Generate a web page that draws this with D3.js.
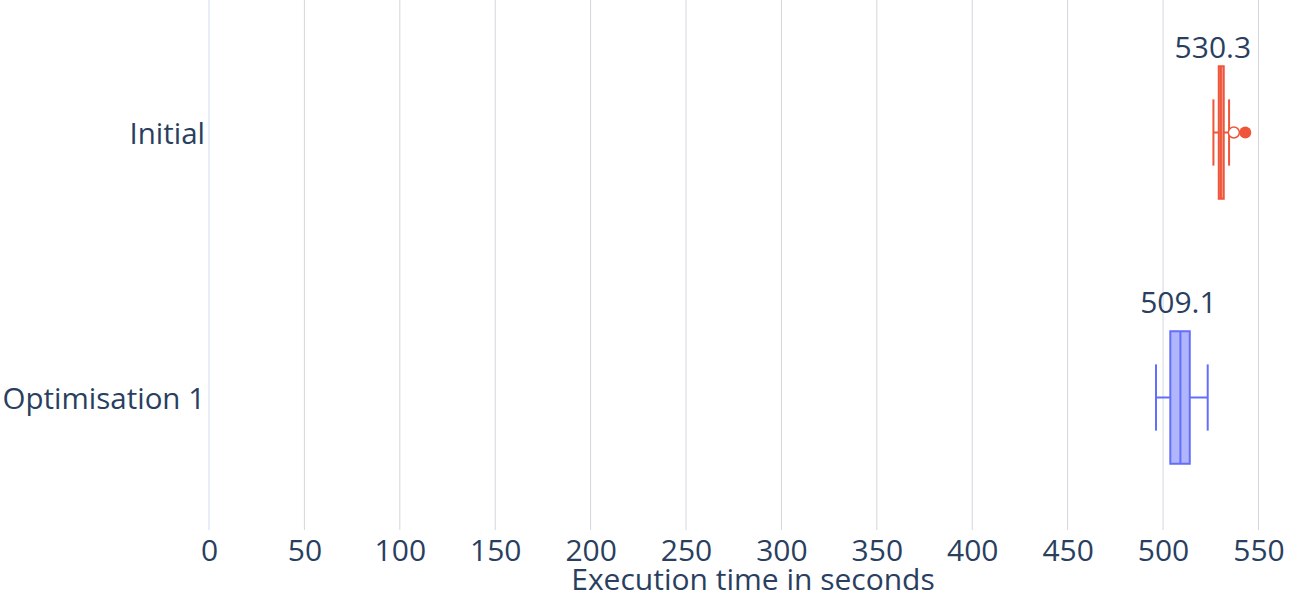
<!DOCTYPE html>
<html>
<head>
<meta charset="utf-8">
<script src="https://cdn.jsdelivr.net/npm/d3@7"></script>
<style>
  html, body { margin: 0; padding: 0; background: #fff; }
  svg { display: block; font-family: "Open Sans", "Noto Sans", sans-serif; }
</style>
</head>
<body>
<svg id="chart" width="1300" height="600"></svg>
<script>
// ---- data ----
const categories = ["Initial", "Optimisation 1"];
const colors = ["#EF553B", "#636EFA"];
const q1 = [529.2, 503.8];
const medians = [530.3, 509.1];
const q3 = [531.8, 514.0];
const lowerFence = [526.4, 496.3];
const upperFence = [534.6, 523.4];
const suspectedOutliers = [[537.1], []];
const outliers = [[543.1], []];
const medianLabels = ["530.3", "509.1"];
const xTicks = [0, 50, 100, 150, 200, 250, 300, 350, 400, 450, 500, 550];
const xTitle = "Execution time in seconds";

(function () {
// ---- layout ----
const plotLeft = 209, plotRight = 1297, plotTop = 0, plotBottom = 530;
const textColor = "#2a3f5f";
const fontSize = 30;

const svg = d3.select("#chart");
const x = d3.scaleLinear().domain([0, 570.2]).range([plotLeft, plotRight]);
const y = d3.scaleBand().domain(categories).range([plotTop, plotBottom]).paddingInner(0).paddingOuter(0);
const boxH = y.bandwidth() * 0.5;

// grid
svg.append("g").selectAll("line").data(xTicks.filter(d => d !== 0)).join("line")
  .attr("x1", d => x(d)).attr("x2", d => x(d))
  .attr("y1", plotTop).attr("y2", plotBottom)
  .attr("stroke", "#d4d6dc").attr("stroke-width", 1);
// zero line
svg.append("line")
  .attr("x1", x(0)).attr("x2", x(0)).attr("y1", plotTop).attr("y2", plotBottom)
  .attr("stroke", "#e9edf8").attr("stroke-width", 2);

// x axis tick labels
const xAxis = d3.axisBottom(x).tickValues(xTicks).tickSize(0).tickPadding(0).tickFormat(d3.format("d"));
const gx = svg.append("g").attr("transform", `translate(0,${plotBottom})`).call(xAxis);
gx.select(".domain").remove();
gx.selectAll("text")
  .attr("y", 31).attr("dy", 0)
  .attr("fill", textColor)
  .style("font-size", fontSize + "px")
  .style("font-family", "'Open Sans', sans-serif");

// y axis labels
const yAxis = d3.axisLeft(y).tickSize(0).tickPadding(0);
const gy = svg.append("g").attr("transform", `translate(${plotLeft - 4},0)`).call(yAxis);
gy.select(".domain").remove();
gy.selectAll("text")
  .attr("dy", 0).attr("y", 11)
  .attr("fill", textColor)
  .style("font-size", "29.5px")
  .style("font-family", "'Open Sans', sans-serif");

// axis title
svg.append("text")
  .attr("x", (plotLeft + plotRight) / 2).attr("y", 590)
  .attr("text-anchor", "middle")
  .attr("fill", textColor)
  .style("font-size", fontSize + "px")
  .text(xTitle);

// boxes
categories.forEach((cat, i) => {
  const cy = y(cat) + y.bandwidth() / 2;
  const g = svg.append("g");
  const c = colors[i];
  g.append("line").attr("x1", x(lowerFence[i])).attr("x2", x(q1[i])).attr("y1", cy).attr("y2", cy)
    .attr("stroke", c).attr("stroke-width", 2);
  g.append("line").attr("x1", x(q3[i])).attr("x2", x(upperFence[i])).attr("y1", cy).attr("y2", cy)
    .attr("stroke", c).attr("stroke-width", 2);
  [lowerFence[i], upperFence[i]].forEach(v => {
    g.append("line").attr("x1", x(v)).attr("x2", x(v))
      .attr("y1", cy - boxH / 4).attr("y2", cy + boxH / 4)
      .attr("stroke", c).attr("stroke-width", 2);
  });
  g.append("rect")
    .attr("x", x(q1[i])).attr("width", x(q3[i]) - x(q1[i]))
    .attr("y", cy - boxH / 2).attr("height", boxH)
    .attr("fill", c).attr("fill-opacity", 0.5)
    .attr("stroke", c).attr("stroke-width", 2);
  g.append("line").attr("x1", x(medians[i])).attr("x2", x(medians[i]))
    .attr("y1", cy - boxH / 2).attr("y2", cy + boxH / 2)
    .attr("stroke", c).attr("stroke-width", 2);
  g.selectAll(".so").data(suspectedOutliers[i]).join("circle")
    .attr("cx", d => x(d)).attr("cy", cy).attr("r", 5.5)
    .attr("fill", "#fff").attr("stroke", c).attr("stroke-width", 1.5);
  g.selectAll(".o").data(outliers[i]).join("circle")
    .attr("cx", d => x(d)).attr("cy", cy).attr("r", 6)
    .attr("fill", c);
  const shift = i === 0 ? { dx: -8, gap: 8 } : { dx: -2, gap: 18 };
  svg.append("text")
    .attr("x", x(medians[i]) + shift.dx)
    .attr("y", cy - boxH / 2 - shift.gap)
    .attr("text-anchor", "middle")
    .attr("fill", textColor)
    .style("font-size", fontSize + "px")
    .text(medianLabels[i]);
});
})();
</script>
</body>
</html>
